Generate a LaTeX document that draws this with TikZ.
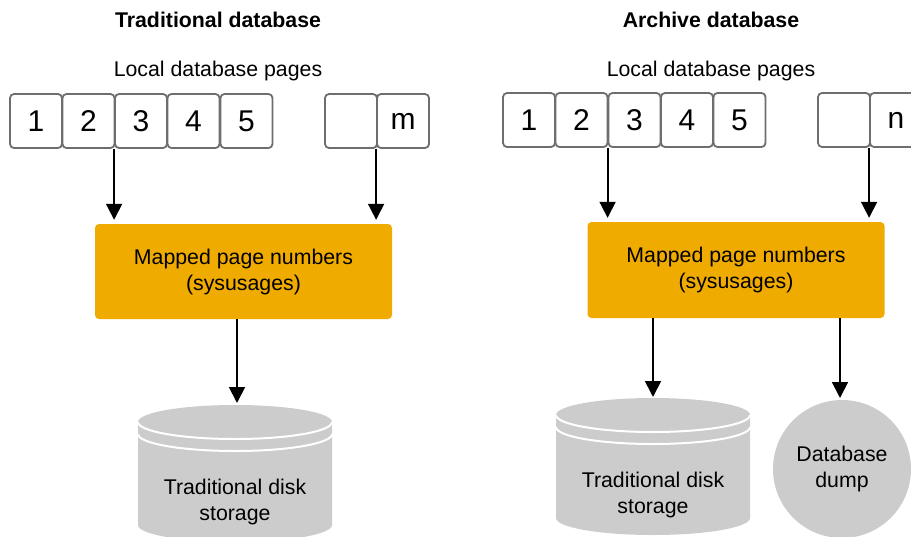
\documentclass[tikz,border=0pt]{standalone}
\usepackage{fontspec}
\setmainfont{Liberation Sans}
\usetikzlibrary{arrows.meta}
\definecolor{gold}{HTML}{F0AB00}
\definecolor{diskgray}{HTML}{CCCCCC}
\definecolor{boxline}{HTML}{6E6E6E}
\begin{document}
\begin{tikzpicture}[x=1pt,y=-1pt,
  txt/.style={font=\fontsize{21.3}{26}\selectfont, align=center, inner sep=0pt},
  ttl/.style={font=\bfseries\fontsize{21.3}{26}\selectfont, inner sep=0pt},
  pagebox/.style={draw=boxline, line width=1.8pt, rounded corners=4pt, fill=white,
    minimum width=52pt, minimum height=54pt, inner sep=0pt, font=\fontsize{30}{31}\selectfont},
  mapbox/.style={fill=gold, rounded corners=4pt, minimum width=297pt, minimum height=95pt,
    font=\fontsize{21.3}{26}\selectfont, align=center, inner sep=0pt},
  arr/.style={line width=1.8pt, -{Triangle[width=16pt,length=16pt]}},
  whiteline/.style={white, line width=2pt}]
\useasboundingbox (0,0) rectangle (911,536);

% ---------- Left: Traditional database ----------
\node[ttl] (ltitle) at (218,20) {Traditional database};
\node[txt] (llocal) at (218,71) {Local database pages};

\node[pagebox] (l1) at (36,121) {1};
\node[pagebox] (l2) at (88.5,121) {2};
\node[pagebox] (l3) at (141,121) {3};
\node[pagebox] (l4) at (193.5,121) {4};
\node[pagebox] (l5) at (246.5,121) {5};
\node[pagebox] (l6) at (351,121) {};
\node[pagebox] (lm) at (403,121) {m};

\node[mapbox] (lmap) at (243.5,271.5) {Mapped page numbers\\(sysusages)};

% left disk
\fill[diskgray] (138,422) -- (138,525) arc[start angle=180,end angle=360,x radius=97pt,y radius=17pt]
  -- (332,422) arc[start angle=0,end angle=180,x radius=97pt,y radius=17pt] -- cycle;
\draw[whiteline] (138,422) arc[start angle=180,end angle=360,x radius=97pt,y radius=17pt];
\draw[whiteline] (138,434) arc[start angle=180,end angle=360,x radius=97pt,y radius=17pt];
\coordinate (ldisktop) at (237,405);
\node[txt] (ldisk) at (235,502) {Traditional disk\\storage};

\draw[arr, shorten >=4pt] (l3.south west) -- (l3.south west |- lmap.north);
\draw[arr, shorten >=4pt] (lm.south west) -- (lm.south west |- lmap.north);
\draw[arr, shorten >=2pt] (ldisktop |- lmap.south) -- (ldisktop);

% ---------- Right: Archive database ----------
\node[ttl] (rtitle) at (711,20) {Archive database};
\node[txt] (rlocal) at (711,71) {Local database pages};

\node[pagebox] (r1) at (529,120) {1};
\node[pagebox] (r2) at (581.5,120) {2};
\node[pagebox] (r3) at (634.5,120) {3};
\node[pagebox] (r4) at (687,120) {4};
\node[pagebox] (r5) at (739.5,120) {5};
\node[pagebox] (r6) at (844,120) {};
\node[pagebox] (rn) at (896,120) {n};

\node[mapbox, minimum height=96pt] (rmap) at (736,270) {Mapped page numbers\\(sysusages)};

% right disk
\fill[diskgray] (556,415) -- (556,518) arc[start angle=180,end angle=360,x radius=97pt,y radius=17pt]
  -- (750,415) arc[start angle=0,end angle=180,x radius=97pt,y radius=17pt] -- cycle;
\draw[whiteline] (556,415) arc[start angle=180,end angle=360,x radius=97pt,y radius=17pt];
\draw[whiteline] (556,427) arc[start angle=180,end angle=360,x radius=97pt,y radius=17pt];
\coordinate (rdisktop) at (653,398);
\node[txt] (rdisk) at (653,495) {Traditional disk\\storage};

\node[circle, fill=diskgray, minimum size=138pt, inner sep=0pt,
  font=\fontsize{21.3}{26}\selectfont, align=center] (dump) at (842,469) {Database\\dump};
\coordinate (dumptop) at (840,400);

\draw[arr, shorten >=4pt] (r3.south west) -- (r3.south west |- rmap.north);
\draw[arr, shorten >=4pt] (rn.south west) -- (rn.south west |- rmap.north);
\draw[arr, shorten >=1pt] (rdisktop |- rmap.south) -- (rdisktop);
\draw[arr, shorten >=2pt] (dumptop |- rmap.south) -- (dumptop);
\end{tikzpicture}
\end{document}
